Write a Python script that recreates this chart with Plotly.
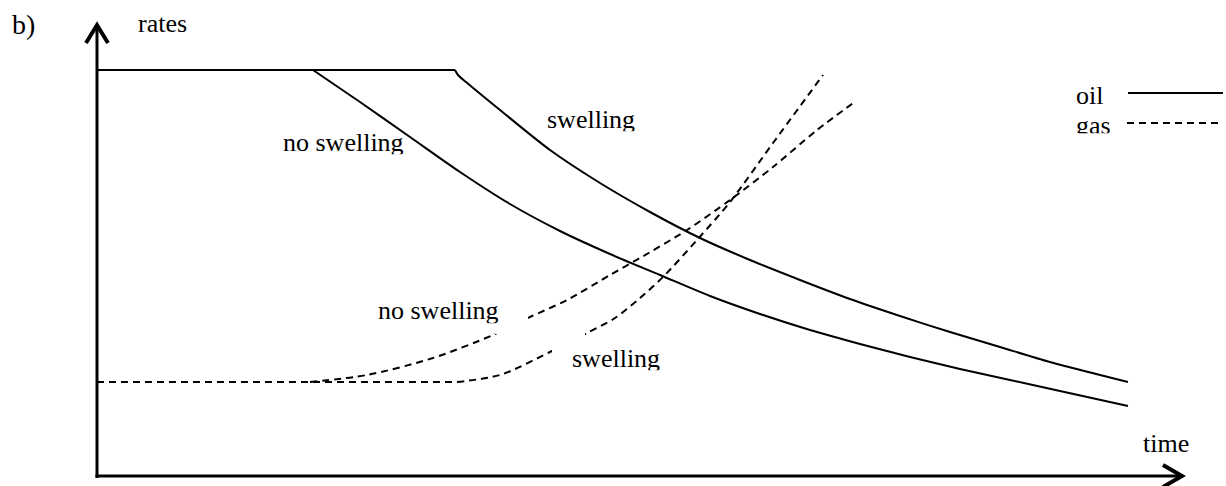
import plotly.graph_objects as go

# ---------------- data (schematic units: time right of origin, rate above origin) ----------------
oil_noswell_time = [0, 216, 263, 313, 363, 413, 463, 513, 563, 613, 663, 713, 763, 813, 863, 913, 963, 1031]
oil_noswell_rate = [406, 406, 374, 339, 304, 272, 245, 222, 201, 180, 162, 146, 132, 119, 107, 96, 85, 70]

oil_swell_time = [0, 358, 361, 369, 403, 453, 503, 553, 603, 653, 703, 753, 803, 853, 903, 953, 1031]
oil_swell_rate = [406, 406, 401, 394, 366, 326, 293, 264, 238, 216, 196, 177, 160, 144, 129, 114, 94]

gas_noswell_time = [0, 213, 270, 336, 396, 433, 470, 513, 543, 590, 633, 676, 720, 759]
gas_noswell_rate = [94, 94, 101, 118, 141, 159, 176, 201, 218, 246, 276, 309, 346, 375]

gas_swell_time = [0, 360, 403, 453, 490, 518, 543, 566, 600, 633, 676, 726]
gas_swell_rate = [94, 94, 101, 124, 143, 158, 178, 199, 236, 274, 333, 401]

panel_label = "b)"
y_title = "rates"
x_title = "time"
legend_names = ["oil", "gas"]
curve_labels = ["no swelling", "swelling"]

# ---------------- layout helpers ----------------
W, H = 1226, 486
X0, Y0 = 97, 476          # origin position in pixels
FONT = "Liberation Serif"
DASH = "7px,5px"


def tx(px):
    return px - X0


def ry(py):
    return Y0 - py


fig = go.Figure()


def add_curve(t, r, dash):
    # constant (plateau) part drawn straight, the changing part smoothed
    k = 0
    while k + 1 < len(r) and r[k + 1] == r[0]:
        k += 1
    fig.add_trace(go.Scatter(
        x=t[:k + 1], y=r[:k + 1], mode="lines",
        line=dict(color="black", width=2, dash=dash),
        hoverinfo="skip", showlegend=False,
    ))
    fig.add_trace(go.Scatter(
        x=t[k:], y=r[k:], mode="lines",
        line=dict(color="black", width=2, dash=dash, shape="spline", smoothing=0.8),
        hoverinfo="skip", showlegend=False,
    ))


add_curve(oil_noswell_time, oil_noswell_rate, "solid")
add_curve(oil_swell_time, oil_swell_rate, "solid")
add_curve(gas_noswell_time, gas_noswell_rate, DASH)
add_curve(gas_swell_time, gas_swell_rate, DASH)

shapes = []
# axes
shapes.append(dict(type="line", xref="x", yref="y", x0=0, y0=ry(478), x1=0, y1=ry(26),
                   line=dict(color="black", width=3)))
shapes.append(dict(type="path", xref="x", yref="y",
                   path=f"M {tx(86)},{ry(43)} L {tx(97)},{ry(25)} L {tx(108)},{ry(43)}",
                   line=dict(color="black", width=4)))
shapes.append(dict(type="line", xref="x", yref="y", x0=tx(95.5), y0=0, x1=tx(1181), y1=0,
                   line=dict(color="black", width=3)))
shapes.append(dict(type="path", xref="x", yref="y",
                   path=f"M {tx(1163)},{ry(465)} L {tx(1182)},{ry(476)} L {tx(1163)},{ry(487)}",
                   line=dict(color="black", width=4)))
# legend samples
shapes.append(dict(type="line", xref="x", yref="y", x0=tx(1128), y0=ry(93), x1=tx(1223), y1=ry(93),
                   line=dict(color="black", width=2)))
shapes.append(dict(type="line", xref="x", yref="y", x0=tx(1127), y0=ry(123), x1=tx(1219), y1=ry(123),
                   line=dict(color="black", width=2, dash=DASH)))
# white boxes behind the gas labels (they interrupt the dashed curves)
for l, r_, t_, b_ in [(495, 528, 312, 334), (552, 585, 330, 356)]:
    shapes.append(dict(type="rect", xref="x", yref="y", layer="above",
                       x0=tx(l), x1=tx(r_), y0=ry(t_), y1=ry(b_),
                       fillcolor="white", line=dict(width=0)))
fig.update_layout(shapes=shapes)


def label(text, left, baseline, size=26, clip=None):
    top = baseline - 0.891 * size
    d = dict(text=text, x=tx(left), y=ry(top), xref="x", yref="y",
             xanchor="left", yanchor="top", showarrow=False,
             font=dict(family=FONT, size=size, color="black"),
             borderpad=0, borderwidth=0, valign="top", align="left")
    if clip is not None:
        d["height"] = clip - top
    fig.add_annotation(**d)


label(panel_label, 12, 34, size=28)
label(y_title, 138, 32)
label(x_title, 1143, 452)
label(legend_names[0], 1076, 104)
label(legend_names[1], 1076, 134, clip=133)
label(curve_labels[0], 283, 151, clip=154)      # oil, no swelling
label(curve_labels[1], 547, 128, clip=131)      # oil, swelling
label(curve_labels[0], 378, 319, clip=323)      # gas, no swelling
label(curve_labels[1], 572, 367, clip=370)      # gas, swelling

fig.update_layout(
    width=W, height=H,
    margin=dict(l=0, r=0, t=0, b=0),
    paper_bgcolor="white", plot_bgcolor="white",
    xaxis=dict(visible=False, range=[tx(0), tx(W)], fixedrange=True),
    yaxis=dict(visible=False, range=[ry(H), ry(0)], fixedrange=True),
    showlegend=False,
)

fig.write_html(
    "out.html",
    config={"displayModeBar": False, "staticPlot": True},
    post_script="document.body.style.margin='0';document.body.style.overflow='hidden';",
)
